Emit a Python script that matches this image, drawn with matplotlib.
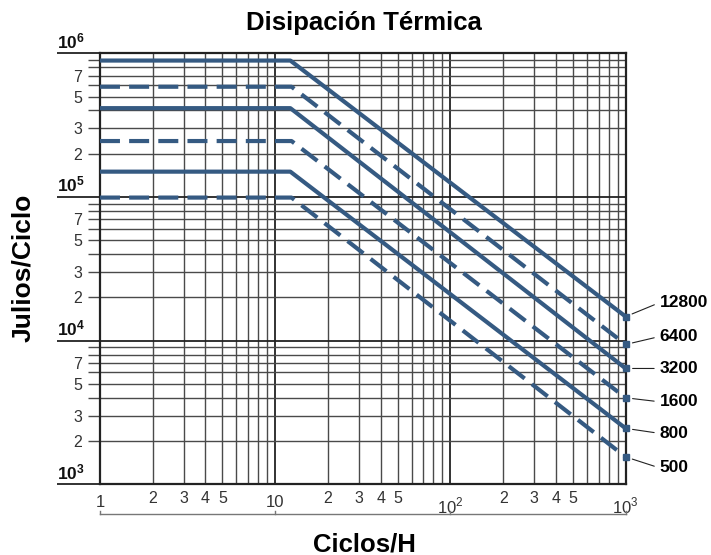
import numpy as np
import matplotlib
matplotlib.use("Agg")
import matplotlib.pyplot as plt
import matplotlib.ticker as mticker
import matplotlib.transforms as mtransforms

plt.rcParams['font.family'] = ['Liberation Sans', 'DejaVu Sans']
plt.rcParams['mathtext.fontset'] = 'custom'
plt.rcParams['mathtext.rm'] = 'Liberation Sans'
plt.rcParams['mathtext.bf'] = 'Liberation Sans:bold'

# Data
series_labels = ['12800', '6400', '3200', '1600', '800', '500']
series_dashed = [False, True, False, True, False, True]
plateau_j = [8.9e5, 5.85e5, 4.15e5, 2.45e5, 1.5e5, 0.99e5]
knee_cycles = [12.2, 12.4, 12.2, 12.4, 12.2, 12.4]
end_j = [1.47e4, 9.4e3, 6.4e3, 4.0e3, 2.45e3, 1.55e3]
start_cycles = 1
end_cycles = 1000

# label offsets (pixels) of the right-hand labels relative to line ends
label_dy = [14, 8, 0, -4, -5, -11]

blue = '#355a82'
grid_c = '#4a4a4a'

fig = plt.figure(figsize=(7.11, 5.55), dpi=100)
ax = fig.add_axes([0.1406, 0.1274, 0.7394, 0.7766])
ax.set_xscale('log')
ax.set_yscale('log')
ax.set_xlim(1, 1000)
ax.set_ylim(1e3, 1e6)

# grid
ax.grid(True, which='minor', color=grid_c, lw=1.0)
ax.grid(True, which='major', color='#222222', lw=1.3)
ax.set_axisbelow(True)
for s in ax.spines.values():
    s.set_linewidth(1.6)
    s.set_color('#222222')

# y ticks
ax.yaxis.set_major_locator(mticker.LogLocator(base=10, numticks=10))
ax.yaxis.set_minor_locator(mticker.LogLocator(base=10, subs=np.arange(2, 10), numticks=10))
ax.yaxis.set_major_formatter(mticker.NullFormatter())

def ymin_fmt(v, pos):
    m = int(round(v / 10 ** np.floor(np.log10(v) + 1e-9)))
    return str(m) if m in (2, 3, 5, 7) else ''

ax.yaxis.set_minor_formatter(mticker.FuncFormatter(ymin_fmt))
ax.tick_params(axis='y', which='major', length=31, width=1.3, color='#222222')
ax.tick_params(axis='y', which='minor', length=8.6, width=1.0, color=grid_c,
               pad=4, labelsize=11.5, labelcolor='#333333')

for dec, txt in zip([1e3, 1e4, 1e5, 1e6], ['3', '4', '5', '6']):
    ax.annotate(r'$\mathbf{10^{%s}}$' % txt, xy=(-0.082, dec),
                xycoords=('axes fraction', 'data'), xytext=(0, 1.5),
                textcoords='offset points', ha='left', va='bottom',
                fontsize=12.5, color='#111111')

# x ticks
ax.xaxis.set_major_locator(mticker.FixedLocator([1, 10, 100, 1000]))
ax.xaxis.set_major_formatter(mticker.FixedFormatter(['1', '10', r'$10^2$', r'$10^3$']))
ax.xaxis.set_minor_locator(mticker.LogLocator(base=10, subs=np.arange(2, 10), numticks=10))

def xmin_fmt(v, pos):
    m = int(round(v / 10 ** np.floor(np.log10(v) + 1e-9)))
    return str(m) if m in (2, 3, 4, 5) else ''

ax.xaxis.set_minor_formatter(mticker.FuncFormatter(xmin_fmt))
ax.tick_params(axis='x', which='major', length=0, pad=8, labelsize=12, labelcolor='#333333')
ax.tick_params(axis='x', which='minor', length=0, pad=4.5, labelsize=11.5, labelcolor='#333333')

# bracket below x labels
btr = mtransforms.blended_transform_factory(ax.transData, ax.transAxes)
ax.plot([1, 1000], [-0.069, -0.069], transform=btr, clip_on=False, color='#777777', lw=1)
for d in [1, 10, 100, 1000]:
    ax.plot([d, d], [-0.069, -0.063], transform=btr, clip_on=False, color='#777777', lw=1)

# curves
for lab, dashed, p, k, e, dy in zip(series_labels, series_dashed, plateau_j,
                                    knee_cycles, end_j, label_dy):
    xs = [start_cycles, k, end_cycles]
    ys = [p, p, e]
    line, = ax.plot(xs, ys, color=blue, lw=3, solid_capstyle='butt',
                    dash_capstyle='butt', clip_on=False, zorder=3)
    if dashed:
        line.set_dashes((4.8, 2.2))
    ax.plot([end_cycles], [e], marker='s', ms=4.5, color=blue, clip_on=False, zorder=4)
    ax.annotate(lab, xy=(end_cycles, e), xycoords='data',
                xytext=(34, dy), textcoords='offset pixels',
                ha='left', va='center', fontsize=12.5, fontweight='bold',
                annotation_clip=False,
                arrowprops=dict(arrowstyle='-', lw=0.8, color='#222222',
                                shrinkA=2, shrinkB=5, relpos=(0, 0.5)))

fig.text(0.512, 1 - 23 / 555, 'Disipación Térmica', ha='center', va='center',
         fontsize=18.5, fontweight='bold')
fig.text(0.032, 0.517, 'Julios/Ciclo', ha='center', va='center', rotation=90,
         fontsize=19, fontweight='bold')
fig.text(0.513, 1 - 544 / 555, 'Ciclos/H', ha='center', va='center',
         fontsize=18.5, fontweight='bold')

fig.savefig('out.png', dpi=100)
